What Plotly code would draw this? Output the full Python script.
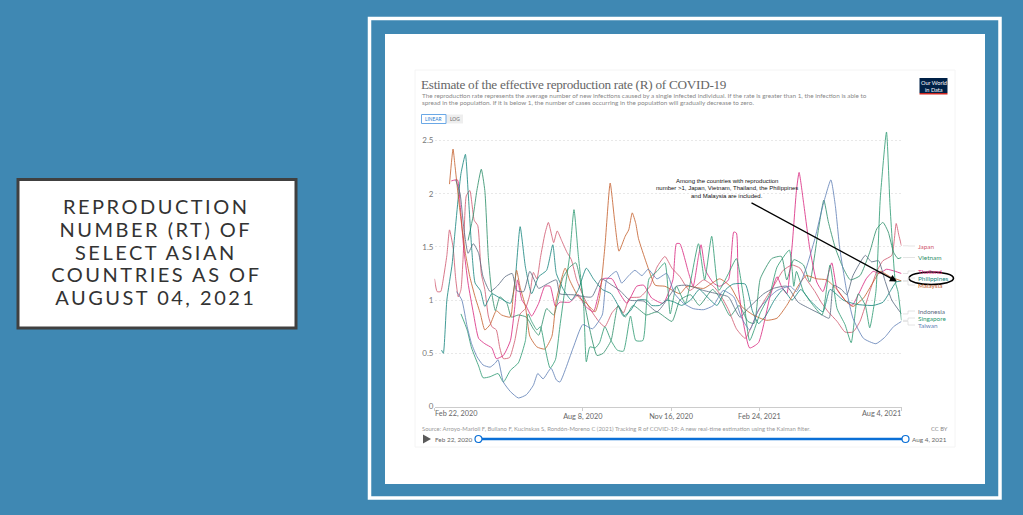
import pandas as pd
import plotly.graph_objects as go

START = pd.Timestamp("2020-02-22")

japan_days = [0,3,7,10,14,17,21,24,27,30,33,36,40,45,49,53,57,61,65,70,74,78,85,91,97,103,108,112,116,120,125,129,133,135,139,144,150,155,161,169,176,186,193,201,208,214,221,233,244,252,261,269,278,289,305,316,323,333,342,352,359,365,374,384,395,405,414,421,431,438,446,456,465,474,482,493,501,508,518,523,526,529]
japan_r = [1.2,1.08,1.08,1.2,1.42,1.66,1.5,1.2,1.03,1.1,1.5,1.98,2.03,1.75,1.7,1.25,1.1,.85,.75,.72,.55,.45,.46,.62,.87,.92,1.05,1.26,1.2,1.4,1.62,1.73,1.6,1.54,1.65,1.56,1.45,1.38,1.19,1.03,.92,.8,.75,.88,.94,.88,1.02,1.03,1.13,1.31,1.41,1.3,1.22,1.09,1.19,1.13,1.06,.91,.73,.64,.75,.87,1.0,1.13,1.28,1.33,1.3,1.2,1.08,.98,.89,.8,.7,.7,.8,1.08,1.27,1.37,1.42,1.72,1.61,1.51]

vietnam_days = [38,44,48,53,57,61,65,69,74,82,87,95,104,112,118,127,135,145,152,160,168,176,184,191,200,208,216,225,240,252,269,278,290,300,315,325,335,345,355,362,369,382,393,399,407,418,425,435,441,446,454,463,471,482,493,501,508,514,520,525,529]
vietnam_r = [1.56,1.8,2.03,2.23,2.03,1.4,1.06,.9,1.03,.97,.84,.86,.84,.73,.67,.92,.86,1.2,1.3,1.35,1.05,.72,.48,.5,.62,.95,.84,.95,.86,.89,.8,1.0,1.05,.95,1.1,1.0,.85,.95,.8,.78,1.2,1.39,1.41,1.19,1.38,1.33,1.17,1.67,1.94,1.74,1.49,1.3,1.19,1.23,1.45,1.67,1.73,1.64,1.45,1.39,1.4]

thailand_days = [19,26,29,33,38,44,50,57,65,70,78,86,91,94,99,104,110,118,125,131,137,142,153,163,170,180,191,201,210,218,229,237,246,259,270,274,278,288,293,299,302,307,316,323,333,339,342,344,350,357,367,380,388,393,399,405,410,413,418,425,433,440,450,456,465,473,480,489,497,504,512,522,529]
thailand_r = [2.12,2.13,1.9,1.5,1.16,.88,.64,.59,.55,.45,.48,.62,.94,1.19,1.0,.94,.85,.97,1.13,1.13,.94,.98,.98,1.05,.95,.89,1.2,1.2,1.06,.97,1.13,1.14,1.02,.97,1.19,1.53,1.53,1.25,1.13,1.41,1.52,1.28,1.16,1.13,1.19,1.64,1.63,1.13,.78,.55,.6,1.03,1.22,1.13,1.06,1.5,2.03,2.2,1.92,1.49,1.17,1.08,1.35,1.1,1.0,.95,1.05,1.2,1.27,1.25,1.29,1.27,1.25]

philippines_days = [8,10,14,20,23,27,30,35,38,42,46,52,57,65,72,86,91,97,103,110,118,127,134,138,146,155,163,172,180,190,200,208,214,222,230,240,246,255,263,272,280,290,300,310,320,330,338,352,360,367,375,385,395,405,415,425,440,448,463,478,497,508,516,523,529]
philippines_r = [.53,.5,1.0,1.34,1.62,1.97,2.19,2.37,2.03,1.5,1.16,1.09,.94,1.06,1.03,.97,1.16,1.69,1.31,1.06,1.22,1.28,1.52,1.25,1.1,1.0,1.1,1.3,1.2,1.1,1.06,.95,.85,.9,1.0,1.0,.95,.95,1.0,.98,.95,1.0,1.1,1.02,.95,1.1,1.15,1.15,.9,.78,.85,1.0,1.1,1.0,1.1,1.0,.89,1.1,1.0,.96,.95,.98,1.08,1.17,1.18]

malaysia_days = [17,21,23,27,31,35,40,46,52,57,63,70,76,86,89,93,97,103,108,116,125,133,138,148,153,163,172,182,187,193,199,204,209,216,220,224,228,231,240,250,261,278,286,305,323,335,348,361,376,388,399,414,421,433,444,456,467,474,486,497,505,516,529]
malaysia_r = [2.09,2.42,2.28,1.97,1.69,1.44,1.22,1.03,.87,.72,.77,.9,.86,.84,1.03,1.28,1.12,.94,.66,.56,.54,.66,1.0,1.3,1.19,1.03,.97,.89,1.03,1.5,2.1,1.75,1.46,1.6,1.66,1.82,1.72,1.58,1.35,1.14,1.13,1.06,1.13,1.11,1.2,1.13,.94,.86,.81,.83,.95,1.16,1.23,1.2,1.19,1.1,.98,.94,1.02,1.17,1.27,1.22,1.18]

indonesia_days = [24,29,33,38,44,50,55,63,72,80,88,93,101,108,118,125,138,142,157,178,189,201,210,221,237,252,263,274,286,305,320,333,346,355,373,384,399,412,425,437,447,452,461,467,474,488,495,503,510,518,529]
indonesia_r = [2.13,2.0,1.69,1.44,1.53,1.44,1.22,1.08,1.14,1.22,1.25,1.09,1.08,1.27,1.11,1.14,1.19,1.06,1.05,1.03,1.2,1.14,1.09,1.0,.99,.89,1.0,1.13,1.14,1.09,1.06,1.03,.84,.92,1.06,1.11,1.13,.98,.92,.87,.83,1.14,1.1,1.05,1.23,1.42,1.36,1.37,1.19,1.0,.87]

singapore_days = [30,37,42,50,55,63,72,78,86,95,103,106,110,116,120,125,131,137,142,148,153,158,163,169,172,176,182,187,193,200,207,214,222,228,236,243,252,261,267,274,284,299,306,314,322,333,342,350,357,369,380,388,402,407,410,418,429,439,448,456,465,472,480,488,493,500,505,512,516,522,525,529]
singapore_r = [.87,.72,.55,.38,.27,.28,.31,.23,.34,.41,.62,.87,.8,.72,.75,.56,.36,.44,.75,1.12,1.41,1.85,1.41,.94,.42,.56,.55,.6,.75,.62,.53,.52,.85,.62,.62,1.2,1.27,1.35,.87,1.13,.97,1.53,1.19,1.6,1.09,1.25,1.39,1.03,.62,.88,1.06,1.31,1.47,1.13,1.27,1.08,.95,.86,1.33,.92,.77,.6,1.06,.95,.74,1.08,1.96,2.58,1.89,1.17,1.08,.81]

taiwan_days = [25,31,37,42,48,55,63,69,72,78,86,95,104,112,117,123,132,138,142,157,168,179,190,195,206,212,220,227,235,242,252,263,272,282,293,305,316,327,339,348,357,367,376,388,403,410,421,431,440,449,454,459,467,474,486,500,510,520,529]
taiwan_r = [1.08,1.0,.75,.59,.47,.39,.37,.41,.44,.23,.14,.08,.11,.2,.31,.26,.36,.25,.23,.55,.77,.73,.86,1.19,1.27,1.16,1.23,1.28,1.23,1.29,1.2,1.25,1.06,.97,.92,.91,.95,1.09,1.03,.83,.72,.91,1.0,1.09,1.13,1.08,1.3,1.58,1.89,2.13,1.89,1.49,1.08,.83,.64,.59,.65,.75,.8]

series_names = ["Japan", "Vietnam", "Thailand", "Philippines", "Malaysia", "Indonesia", "Singapore", "Taiwan"]
series_colors = ["#d0596f", "#2f8f6a", "#d9277f", "#16857e", "#c4602c", "#5a6a80", "#2c9a72", "#5f7fb5"]
series_days = [japan_days, vietnam_days, thailand_days, philippines_days, malaysia_days, indonesia_days, singapore_days, taiwan_days]
series_values = [japan_r, vietnam_r, thailand_r, philippines_r, malaysia_r, indonesia_r, singapore_r, taiwan_r]
label_ypx = [246, 257.5, 271, 278, 285, 311, 318, 325]

y_ticks = [0, 0.5, 1, 1.5, 2, 2.5]
y_ticktext = ["0", "0.5", "1", "1.5", "2", "2.5"]
x_tick_dates = ["2020-02-22", "2020-08-08", "2020-11-16", "2021-02-24", "2021-08-04"]
x_tick_text = ["Feb 22, 2020", "Aug 8, 2020", "Nov 16, 2020", "Feb 24, 2021", "Aug 4, 2021"]
heading_lines = ["REPRODUCTION", "NUMBER (RT) OF", "SELECT ASIAN", "COUNTRIES AS OF", "AUGUST 04, 2021"]
heading_ypx = [206, 229, 251.5, 274, 297]

W, H = 1023, 515
X0, X1 = 434.5, 901.5
Y0 = 406.5
PX_PER_UNIT = 106.4
YMAX = 2.62


def fx(px):
    return px / W


def fy(py):
    return 1 - py / H


fig = go.Figure()
for name, color, days, vals in zip(series_names, series_colors, series_days, series_values):
    dates = [START + pd.Timedelta(days=d) for d in days]
    fig.add_trace(go.Scatter(x=dates, y=vals, mode="lines", name=name,
                             line=dict(color=color, width=0.9, shape="spline", smoothing=0.5),
                             opacity=0.9, hoverinfo="skip", showlegend=False, cliponaxis=False))

BLUE = "#3f88b3"
shapes = [
    dict(type="rect", xref="paper", yref="paper", x0=fx(369.5), x1=fx(1000), y0=fy(18.5), y1=fy(498),
         line=dict(color="white", width=3.5), fillcolor=BLUE, layer="below"),
    dict(type="rect", xref="paper", yref="paper", x0=fx(385), x1=fx(985), y0=fy(34), y1=fy(484),
         line=dict(width=0), fillcolor="white", layer="below"),
    dict(type="rect", xref="paper", yref="paper", x0=fx(415), x1=fx(955), y0=fy(70), y1=fy(447),
         line=dict(color="#f4f4f4", width=1), fillcolor="white", layer="below"),
    dict(type="rect", xref="paper", yref="paper", x0=fx(18), x1=fx(296), y0=fy(179.5), y1=fy(328),
         line=dict(color="#404040", width=3), fillcolor="white", layer="below"),
    # logo
    dict(type="rect", xref="paper", yref="paper", x0=fx(919.5), x1=fx(947.5), y0=fy(78), y1=fy(93),
         line=dict(width=0), fillcolor="#002147", layer="below"),
    dict(type="rect", xref="paper", yref="paper", x0=fx(919.5), x1=fx(947.5), y0=fy(93), y1=fy(94.5),
         line=dict(width=0), fillcolor="#ce261e", layer="below"),
    # linear / log buttons
    dict(type="rect", xref="paper", yref="paper", x0=fx(446), x1=fx(463), y0=fy(114.5), y1=fy(123.5),
         line=dict(width=0), fillcolor="#eeeeee", layer="below"),
    dict(type="rect", xref="paper", yref="paper", x0=fx(421.5), x1=fx(446), y0=fy(114.5), y1=fy(123.5),
         line=dict(color="#6aa8e6", width=1), fillcolor="white", layer="below"),
    # slider
    dict(type="line", xref="paper", yref="paper", x0=fx(478), x1=fx(905), y0=fy(439), y1=fy(439),
         line=dict(color="#0a6fd6", width=2.5)),
    dict(type="path", xref="paper", yref="paper",
         path=f"M {fx(423)} {fy(434.5)} L {fx(431)} {fy(439)} L {fx(423)} {fy(443.5)} Z",
         line=dict(width=0), fillcolor="#5a5a5a"),
    dict(type="circle", xref="paper", yref="paper", x0=fx(475), x1=fx(482), y0=fy(435.5), y1=fy(442.5),
         line=dict(color="#0a6fd6", width=1.2), fillcolor="white"),
    dict(type="circle", xref="paper", yref="paper", x0=fx(902), x1=fx(909), y0=fy(435.5), y1=fy(442.5),
         line=dict(color="#0a6fd6", width=1.2), fillcolor="white"),
    # ellipse
    dict(type="circle", xref="paper", yref="paper", x0=fx(909), x1=fx(953.5), y0=fy(272), y1=fy(284.5),
         line=dict(color="black", width=1.6), fillcolor="rgba(0,0,0,0)"),
]

line_ends = [vals[-1] for vals in series_values]
for end, lab_y in zip(line_ends, label_ypx):
    end_y = Y0 - end * PX_PER_UNIT
    shapes.append(dict(type="path", xref="paper", yref="paper",
                       path=f"M {fx(903)} {fy(end_y)} L {fx(908)} {fy(end_y)} L {fx(908)} {fy(lab_y)} L {fx(915)} {fy(lab_y)}",
                       line=dict(color="#dddddd", width=0.8)))

ann = []


def text(x, y, s, size, color, anchor="left", family="Lato"):
    ann.append(dict(x=fx(x), y=fy(y), xref="paper", yref="paper", text=s, showarrow=False,
                    xanchor=anchor, yanchor="middle", align=anchor,
                    font=dict(family=family, size=size, color=color)))


for line, yy in zip(heading_lines, heading_ypx):
    text(156, yy, line, 20, "#333333", "center")

text(418.5, 84.5, "Estimate of the effective reproduction rate (R) of COVID-19", 13.2, "#666666", family="Liberation Serif")
text(419.5, 95, "The reproduction rate represents the average number of new infections caused by a single infected individual. If the rate is greater than 1, the infection is able to", 6.35, "#888888")
text(419.5, 102.5, "spread in the population. If it is below 1, the number of cases occurring in the population will gradually decrease to zero.", 6.35, "#888888")
text(433.7, 119, "LINEAR", 4.8, "#2a7bd0", "center")
text(454.5, 119, "LOG", 4.8, "#666666", "center")
text(933.5, 82, "Our World", 5.6, "white", "center")
text(933.5, 89, "in Data", 5.6, "white", "center")

axis_font = dict(family="Lato", size=7.3, color="#666666")
ann.append(dict(x=x_tick_dates[0], y=fy(413.5), xref="x", yref="paper", text=x_tick_text[0], showarrow=False,
                xanchor="left", yanchor="middle", xshift=-2, font=axis_font))
ann.append(dict(x=x_tick_dates[-1], y=fy(413.5), xref="x", yref="paper", text=x_tick_text[-1], showarrow=False,
                xanchor="right", yanchor="middle", xshift=1, font=axis_font))

text(419.5, 428, "Source: Arroyo-Marioli F, Bullano F, Kucinskas S, Rondón-Moreno C (2021) Tracking R of COVID-19: A new real-time estimation using the Kalman filter.", 5.9, "#999999")
text(949.5, 428, "CC BY", 5.8, "#888888", "right")
text(432.5, 439.5, x_tick_text[0], 6.4, "#666666")
text(949, 439.5, x_tick_text[-1], 6.4, "#666666", "right")

for name, color, yy in zip(series_names, series_colors, label_ypx):
    text(916, yy, name, 6.4, color)

text(726.5, 181, "Among the countries with reproduction", 6, "#111111", "center", family="Liberation Sans")
text(726.5, 188.5, "number >1, Japan, Vietnam, Thailand, the Philippines", 6, "#111111", "center", family="Liberation Sans")
text(726.5, 196, "and Malaysia are included.", 6, "#111111", "center", family="Liberation Sans")
ann.append(dict(x=fx(897), y=fy(281.5), ax=750 - 897, ay=202 - 281.5, xref="paper", yref="paper",
                text="", showarrow=True, arrowhead=2, arrowsize=1.1, arrowwidth=1.3, arrowcolor="black"))

fig.update_layout(
    width=W, height=H, margin=dict(l=0, r=0, t=0, b=0, autoexpand=False),
    paper_bgcolor=BLUE, plot_bgcolor="rgba(0,0,0,0)", showlegend=False,
    shapes=shapes, annotations=ann,
    xaxis=dict(type="date", domain=[fx(X0), fx(X1)], range=[x_tick_dates[0], x_tick_dates[-1]],
               tickvals=x_tick_dates, ticktext=["", x_tick_text[1], x_tick_text[2], x_tick_text[3], ""],
               ticks="outside", ticklen=3, tickcolor="#cccccc", showgrid=False, zeroline=False,
               showline=True, linecolor="#cccccc", linewidth=1, automargin=False,
               tickfont=dict(family="Lato", size=7.3, color="#666666")),
    yaxis=dict(domain=[fy(Y0), fy(Y0 - YMAX * PX_PER_UNIT)], range=[0, YMAX],
               tickvals=y_ticks, ticktext=y_ticktext, showgrid=True, gridcolor="#e8e8e8", griddash="2px,2px",
               gridwidth=0.8, zeroline=False, showline=False, ticks="", automargin=False,
               tickfont=dict(family="Lato", size=8, color="#777777")),
)

post = """
document.body.style.margin='0';
document.querySelectorAll('.annotation-text').forEach(function(t){
  var s=t.textContent;
  if(/^[A-Z0-9 (),]+$/.test(s) && s.length>8){ t.style.letterSpacing='2.5px'; }
  if(s.indexOf('Estimate of')===0){ t.style.letterSpacing='-0.26px'; }
});
"""
fig.write_html("out.html", post_script=post, config=dict(displayModeBar=False))
